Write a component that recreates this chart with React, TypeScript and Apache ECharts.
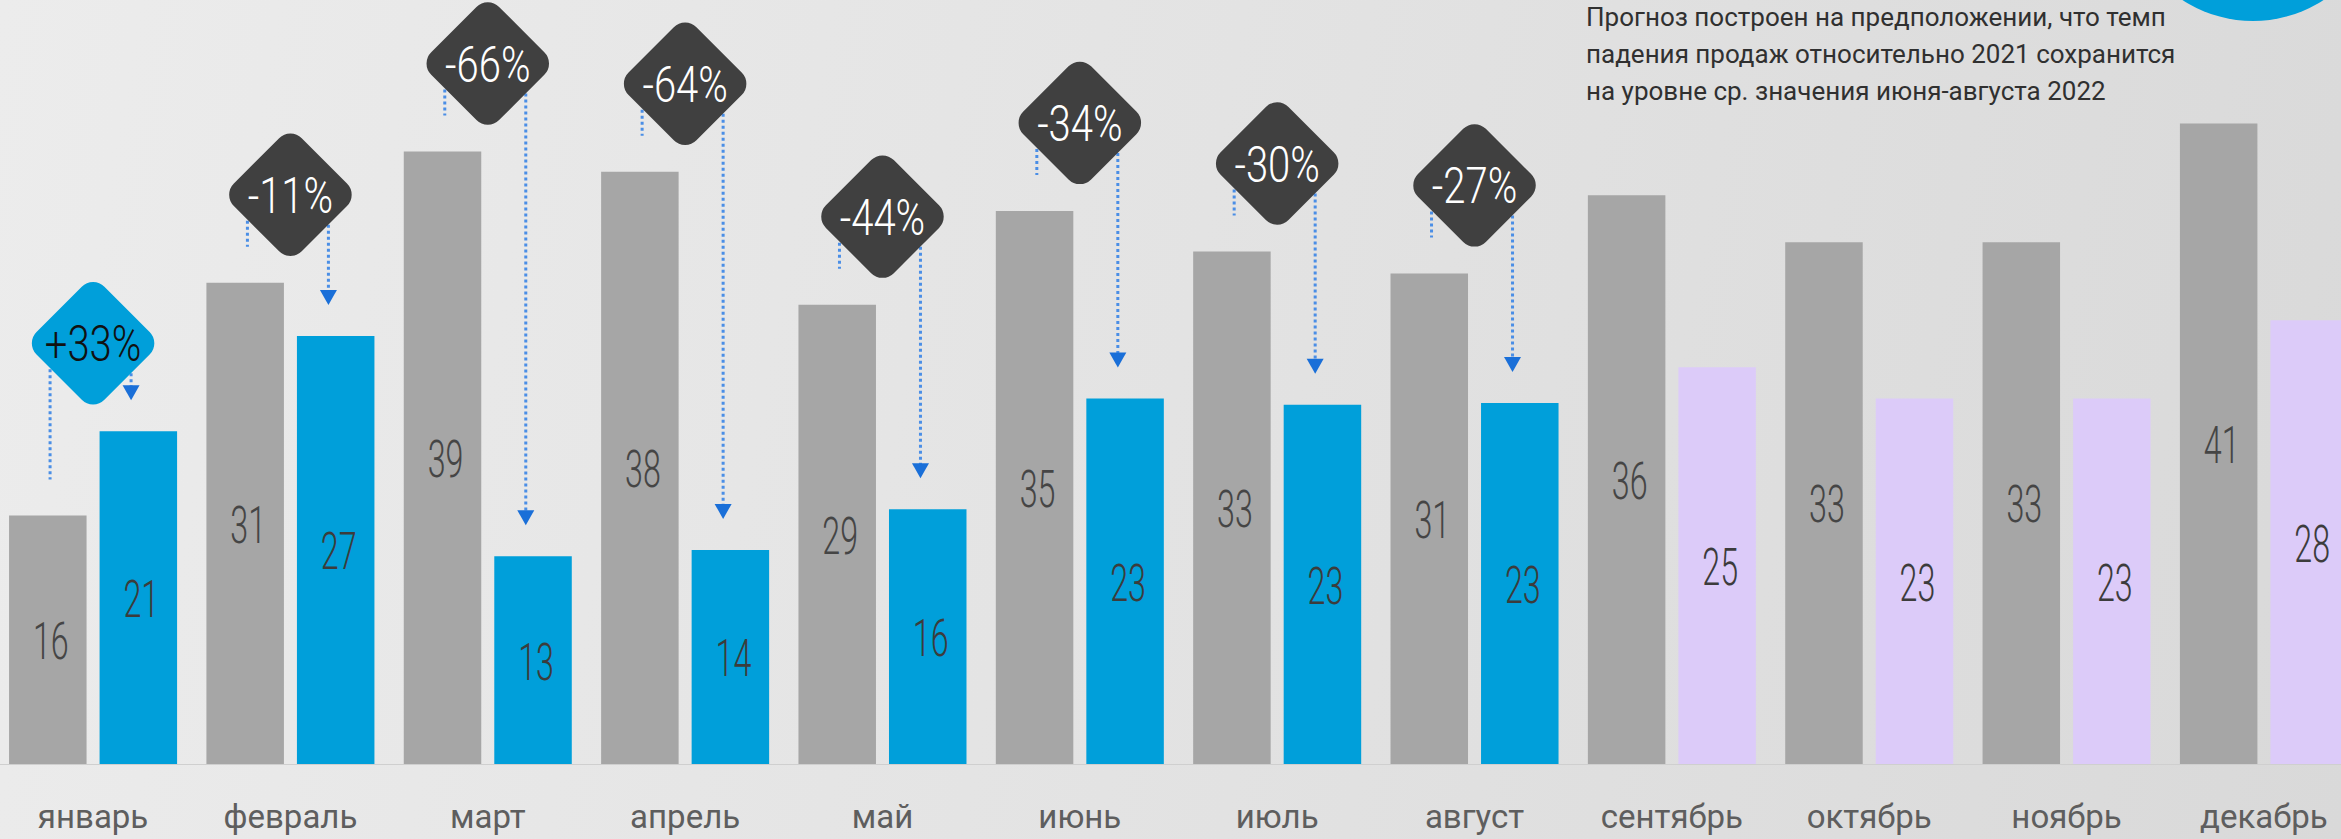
import React, { useEffect, useRef } from "react";
import * as echarts from "echarts";

const months = ["январь", "февраль", "март", "апрель", "май", "июнь", "июль", "август", "сентябрь", "октябрь", "ноябрь", "декабрь"];
const sales2021 = [15.9, 30.8, 39.2, 37.9, 29.4, 35.4, 32.8, 31.4, 36.4, 33.4, 33.4, 41.0];
const sales2022 = [21.3, 27.4, 13.3, 13.7, 16.3, 23.4, 23.0, 23.1, 25.4, 23.4, 23.4, 28.4];
const isForecast = [false, false, false, false, false, false, false, false, true, true, true, true];
const changeLabels = ["+33%", "-11%", "-66%", "-64%", "-44%", "-34%", "-30%", "-27%", "", "", "", ""];
const noteLines = [
  "Прогноз построен на предположении, что темп",
  "падения продаж относительно 2021 сохранится",
  "на уровне ср. значения июня-августа 2022",
];

const COL_2021 = "#a6a6a6";
const COL_2022 = "#009fda";
const COL_FORECAST = "#dccbf9";

const renderItem = (params: any, api: any) => {
  const i = api.value(0) as number;
  const g = api.value(1) as number;
  const v = api.value(2) as number;
  const base = api.coord([i, 0]);
  const cx = base[0];
  const y0 = base[1];
  const catW = api.size([1, 0])[0];
  const off = catW * 0.2293;
  const gTop = api.coord([i, g])[1];
  const vTop = api.coord([i, v])[1];
  const numFont = "300 52px Roboto";
  const children: any[] = [
    {
      type: "text",
      x: cx - off + 3,
      y: (gTop + y0) / 2 + 2,
      scaleX: 0.62,
      style: { text: String(Math.round(g)), font: numFont, fill: "#454545", align: "center", verticalAlign: "middle" },
    },
    {
      type: "text",
      x: cx + off + 3,
      y: (vTop + y0) / 2 + 2,
      scaleX: 0.62,
      style: { text: String(Math.round(v)), font: numFont, fill: "#3c3c3c", align: "center", verticalAlign: "middle" },
    },
  ];
  const lab = changeLabels[i];
  if (lab) {
    const cy = Math.min(gTop, vTop) - 88;
    const up = lab.startsWith("+");
    const lx = cx - 43;
    const rx = cx + 38;
    const tip = vTop - 31;
    const dotted = { stroke: "#4a8ee6", lineWidth: 3, lineDash: [3, 3] };
    children.push({
      type: "line",
      shape: { x1: lx, y1: cy + 26, x2: lx, y2: Math.max(cy + 45, gTop - 36) },
      style: dotted,
    });
    children.push({
      type: "line",
      shape: { x1: rx, y1: cy + 30, x2: rx, y2: tip - 13 },
      style: dotted,
    });
    children.push({
      type: "polygon",
      shape: { points: [[rx - 8.5, tip - 15], [rx + 8.5, tip - 15], [rx, tip]] },
      style: { fill: "#1a6fd8" },
    });
    children.push({
      type: "rect",
      x: cx,
      y: cy,
      rotation: Math.PI / 4,
      shape: { x: -48, y: -48, width: 96, height: 96, r: 16 },
      style: { fill: up ? COL_2022 : "#404040" },
    });
    children.push({
      type: "text",
      x: cx,
      y: cy + 1,
      scaleX: 0.8,
      style: { text: lab, font: "300 50px Roboto", fill: up ? "#111111" : "#ffffff", align: "center", verticalAlign: "middle" },
    });
  }
  return { type: "group", children };
};

export default function App() {
  const ref = useRef<HTMLDivElement>(null);
  useEffect(() => {
    const chart = echarts.init(ref.current!, undefined, { renderer: "svg" });
    const option: any = {
      animation: false,
      backgroundColor: "transparent",
      grid: { left: -5.6, right: -21.6, top: 14, bottom: 75, outerBoundsMode: "none" },
      xAxis: {
        type: "category",
        data: months,
        axisTick: { show: false },
        axisLine: { lineStyle: { color: "#cfcfcf", width: 1 } },
        axisLabel: { fontFamily: "Roboto", fontSize: 33, color: "#5e5e5e", margin: 36 },
      },
      yAxis: { type: "value", min: 0, max: 48, show: false, splitLine: { show: false } },
      graphic: [
        {
          type: "circle",
          shape: { cx: 2253, cy: -108, r: 129 },
          style: { fill: COL_2022 },
        },
        {
          type: "text",
          x: 1586,
          y: -2,
          style: { text: noteLines.join("\n"), font: "26px Roboto", fill: "#303030", lineHeight: 37 },
        },
      ],
      series: [
        {
          type: "bar",
          name: "2021",
          data: sales2021,
          barWidth: 77.5,
          barGap: "16.8%",
          itemStyle: { color: COL_2021 },
          z: 2,
        },
        {
          type: "bar",
          name: "2022",
          data: sales2022.map((v, i) => ({ value: v, itemStyle: { color: isForecast[i] ? COL_FORECAST : COL_2022 } })),
          barWidth: 77.5,
          barGap: "16.8%",
          z: 2,
        },
        {
          type: "custom",
          data: months.map((_, i) => [i, sales2021[i], sales2022[i]]),
          renderItem,
          clip: false,
          z: 5,
          silent: true,
        },
      ],
    };
    chart.setOption(option);
    return () => chart.dispose();
  }, []);
  return (
    <div
      ref={ref}
      style={{
        position: "absolute",
        left: 0,
        top: 0,
        width: 2341,
        height: 839,
        background: "linear-gradient(100deg, #ececec 0%, #e3e3e3 50%, #d9d9d9 100%)",
      }}
    />
  );
}
